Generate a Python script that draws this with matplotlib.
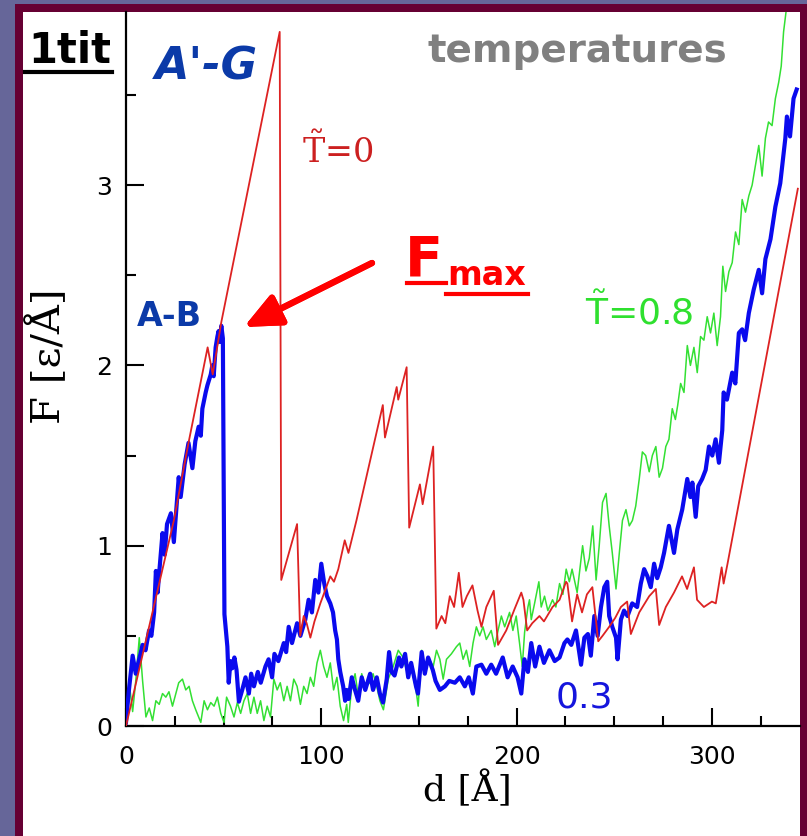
import matplotlib
matplotlib.use("Agg")
import matplotlib.pyplot as plt
from matplotlib.patches import Rectangle
from matplotlib.lines import Line2D
from matplotlib.ticker import MultipleLocator

# --- data: d [A] and F [eps/A] ---

# T~=0 (thin red)
t0_d = [0, 24.5, 32, 41.8, 44.4, 48.8, 78.7, 79.5, 87.6, 89.2, 91, 92.5, 94.4, 96.5,
        99.5, 104.6, 106.5, 108.7, 112, 113.9, 118, 131.5, 132.6, 138.6, 139.4, 143.7,
        145, 150.5, 151.9, 157.3, 158.9, 161.6, 163.5, 165.8, 168, 170.4, 172.3, 174.5,
        177.4, 180, 182, 184.5, 188.3, 190.5, 194.7, 199, 202.4, 203.5, 205.4, 208,
        211.7, 214, 218.4, 222, 225.3, 226, 228.4, 231, 233.5, 236, 238.8, 241.8, 244,
        247.4, 250.5, 253.4, 256.6, 258.5, 262.8, 267.9, 271.3, 273, 276.4, 280.6,
        284.7, 287.3, 290.8, 292.4, 295.9, 300, 302, 305, 306, 308, 344]
t0_F = [0, 1.14, 1.57, 2.10, 1.95, 2.24, 3.85, 0.81, 1.12, 0.50, 0.61, 0.57, 0.49, 0.58,
        0.68, 0.83, 0.80, 0.87, 1.03, 0.96, 1.14, 1.78, 1.60, 1.88, 1.81, 1.99,
        1.10, 1.34, 1.23, 1.55, 0.54, 0.61, 0.57, 0.72, 0.66, 0.85, 0.66, 0.72,
        0.78, 0.64, 0.55, 0.66, 0.75, 0.45, 0.53, 0.65, 0.74, 0.70, 0.53, 0.57,
        0.61, 0.58, 0.66, 0.70, 0.80, 0.79, 0.58, 0.73, 0.63, 0.73, 0.77, 0.47, 0.50,
        0.55, 0.60, 0.66, 0.69, 0.51, 0.63, 0.72, 0.76, 0.56, 0.66, 0.74,
        0.83, 0.76, 0.88, 0.70, 0.66, 0.69, 0.68, 0.88, 0.79, 0.90, 2.98]

# T~=0.3 (thick blue)
t03_d = [0, 1.5, 3.4, 5, 6.5, 8.5, 10, 11.8, 13, 14.4, 15.3, 16.2, 17, 18.7, 19.8, 21,
         23, 24.5, 27, 28, 30, 32, 34, 35.5, 37.2, 38.3, 39.1, 40.8, 41.7, 43.4, 44.2,
         44.9, 45.9, 46.8, 47.4, 48, 48.8, 49.6, 50.4, 51.9, 52.6, 53.5, 54.4, 55.5,
         56.6, 57.8, 59.5, 61.2, 62.9, 64.1, 65.5, 67.5, 69, 71.4, 73, 74.8, 76, 78,
         80.8, 82, 83.3, 85, 87.6, 89.3, 91.8, 93.5, 95.2, 96.9, 98.5, 100, 101.5,
         102.9, 104.6, 106, 107.1, 108, 108.7, 109.7, 111.2, 112.2, 113, 114, 115.6,
         117, 118.9, 120.7, 122.5, 125, 126.5, 128.4, 130, 131.6, 133.5, 134.7, 136,
         137.5, 139.8, 141, 142.9, 144.5, 146, 148.5, 149.5, 151.4, 153, 154.7, 157.1,
         158.5, 160.7, 163.3, 165.5, 168.4, 170.9, 173.5, 175.5, 177.6, 179.4, 182,
         184.5, 187, 189.5, 192.9, 195.4, 198, 200.5, 202.4, 204, 205.8, 207.5, 209.5,
         211.7, 214, 216.8, 219.5, 222, 224.5, 226, 228, 230.4, 233, 234.7, 236.5, 238,
         239.8, 241.5, 243.2, 244.9, 246.4, 247.4, 249, 250.9, 251.7, 253.4, 255, 256.8,
         259.2, 261.7, 263.6, 265.3, 267, 268.7, 270.4, 272, 273.8, 275.5, 278, 280.6,
         282.3, 284.8, 287.4, 289, 290, 291.7, 293, 295, 296.8, 298.5, 300.2, 301.9,
         303.6, 305.3, 306, 307.7, 310.4, 312, 313.8, 315.5, 317, 318.9, 321.4, 324,
         325.7, 327.4, 330, 332.5, 335, 337.6, 338.4, 340, 341.8, 343.4]
t03_F = [0.02, 0.20, 0.39, 0.29, 0.36, 0.45, 0.42, 0.53, 0.50, 0.63, 0.86, 0.74, 0.85,
         1.07, 0.95, 1.12, 1.18, 1.02, 1.38, 1.27, 1.45, 1.57, 1.43, 1.58, 1.66, 1.61,
         1.76, 1.85, 1.89, 1.95, 2.00, 1.94, 2.10, 2.16, 2.19, 2.13, 2.22, 2.15, 0.62,
         0.44, 0.24, 0.36, 0.32, 0.38, 0.31, 0.135, 0.20, 0.27, 0.18, 0.29, 0.22, 0.30,
         0.24, 0.33, 0.37, 0.27, 0.40, 0.36, 0.46, 0.41, 0.55, 0.46, 0.57, 0.50, 0.59,
         0.70, 0.63, 0.81, 0.74, 0.90, 0.79, 0.72, 0.68, 0.63, 0.53, 0.48, 0.37, 0.30,
         0.22, 0.14, 0.20, 0.15, 0.27, 0.21, 0.14, 0.27, 0.20, 0.29, 0.20, 0.27, 0.18,
         0.13, 0.26, 0.41, 0.30, 0.28, 0.38, 0.33, 0.40, 0.27, 0.35, 0.22, 0.18, 0.41,
         0.29, 0.38, 0.31, 0.25, 0.20, 0.22, 0.25, 0.24, 0.27, 0.22, 0.27, 0.18, 0.33,
         0.34, 0.29, 0.34, 0.29, 0.38, 0.27, 0.33, 0.27, 0.18, 0.37, 0.30, 0.46, 0.33,
         0.44, 0.35, 0.42, 0.36, 0.38, 0.46, 0.48, 0.45, 0.53, 0.34, 0.49, 0.51, 0.39,
         0.61, 0.50, 0.66, 0.77, 0.80, 0.61, 0.55, 0.49, 0.37, 0.59, 0.64, 0.61,
         0.68, 0.66, 0.79, 0.87, 0.83, 0.77, 0.90, 0.82, 0.88, 0.96, 1.11, 0.96,
         1.09, 1.20, 1.37, 1.27, 1.35, 1.16, 1.33, 1.37, 1.42, 1.55, 1.50, 1.59,
         1.46, 1.64, 1.85, 1.81, 1.96, 1.90, 2.18, 2.20, 2.14, 2.29, 2.42, 2.53,
         2.40, 2.59, 2.70, 2.88, 3.01, 3.26, 3.38, 3.27, 3.48, 3.53]

# T~=0.8 (thin green)
t08_d = [0, 1.5, 3.4, 5, 6.8, 8.5, 10.2, 11.9, 13.6, 15.3, 17, 18.7, 20.4, 22, 23.8,
         25.5, 27, 28.9, 30.6, 32.3, 34, 35.7, 38.3, 40, 41.7, 43.4, 45.1, 46.8, 48.5,
         50.2, 51.5, 53.5, 55.3, 57, 58.7, 60.4, 62.1, 63.8, 65.5, 67.2, 68.9, 70.6,
         72.3, 74, 75.7, 77.4, 79, 80.8, 82.5, 84.2, 85.9, 87.6, 89.3, 91, 92.7, 94.4,
         96.1, 97.8, 99.5, 101.2, 102.9, 104.6, 106.3, 108, 109.7, 111.4, 113, 113.8,
         115.6, 117.3, 119, 120.7, 122.4, 125, 126.5, 128.4, 130, 131.8, 134.3, 136.8,
         139.4, 141.9, 143.6, 146, 148.5, 149.6, 151.4, 153, 154.7, 157.3, 159, 160.7,
         162.4, 164.1, 166.6, 169.2, 170.9, 172.6, 174.3, 176, 177.7, 179.4, 181.1,
         182.8, 184.5, 187, 188.8, 190.5, 192.2, 193.9, 196.4, 198.1, 199.8, 201.5,
         202.9, 204.1, 205.8, 206.6, 207.5, 209.2, 211.4, 212.6, 214.3, 216, 218.4,
         220.1, 222, 223.7, 225.4, 227, 228.4, 231, 233.8, 235.5, 237.2, 239, 240.7,
         242.3, 244, 245.8, 247.4, 249, 250.9, 252.6, 254.2, 256, 257.7, 259.3, 261,
         262.8, 264.4, 266.1, 267.9, 269.5, 271.3, 273, 274.7, 276.4, 278, 279.7,
         281.3, 282.5, 284, 285.7, 287.4, 289, 290.8, 292.5, 294.2, 295.9, 297.6,
         299.3, 301, 302.7, 304.4, 305.6, 307, 308.7, 310.4, 312.1, 313.8, 315.5,
         317.2, 318.9, 320.6, 322.3, 324, 325.7, 327.4, 329, 330.8, 332.5, 334.2,
         335.5, 336.7, 338.4, 340]
t08_F = [0.02, 0.25, 0.08, 0.25, 0.49, 0.25, 0.05, 0.10, 0.03, 0.14, 0.12, 0.18, 0.16,
         0.19, 0.11, 0.18, 0.24, 0.26, 0.20, 0.22, 0.14, 0.09, 0.02, 0.14, 0.09, 0.13,
         0.11, 0.16, 0.07, 0.02, 0.16, 0.11, 0.05, 0.13, 0.07, 0.14, 0.18, 0.07, 0.16,
         0.07, 0.14, 0.03, 0.11, 0.05, 0.26, 0.20, 0.24, 0.14, 0.22, 0.14, 0.26, 0.22,
         0.12, 0.22, 0.18, 0.27, 0.22, 0.35, 0.42, 0.33, 0.27, 0.35, 0.20, 0.27, 0.11,
         0.03, 0.12, 0.02, 0.22, 0.29, 0.16, 0.29, 0.22, 0.24, 0.29, 0.22, 0.14, 0.09,
         0.26, 0.33, 0.42, 0.38, 0.31, 0.33, 0.20, 0.11, 0.42, 0.31, 0.38, 0.33, 0.42,
         0.37, 0.26, 0.37, 0.40, 0.44, 0.46, 0.37, 0.42, 0.33, 0.46, 0.55, 0.50, 0.55,
         0.48, 0.53, 0.44, 0.53, 0.61, 0.55, 0.63, 0.53, 0.61, 0.46, 0.33, 0.52, 0.66,
         0.70, 0.59, 0.68, 0.80, 0.66, 0.72, 0.64, 0.70, 0.66, 0.79, 0.73, 0.87, 0.80,
         0.87, 0.74, 1.00, 0.86, 0.93, 1.11, 0.81, 1.00, 1.24, 1.29, 1.11, 0.96, 0.76,
         0.96, 1.14, 1.20, 1.11, 1.14, 1.22, 1.37, 1.52, 1.50, 1.41, 1.50, 1.55, 1.38,
         1.43, 1.55, 1.59, 1.76, 1.70, 1.78, 1.90, 1.85, 2.11, 2.00, 2.10, 1.96, 2.16,
         2.14, 2.27, 2.18, 2.29, 2.11, 2.27, 2.55, 2.41, 2.52, 2.57, 2.74, 2.67, 2.92,
         2.85, 2.94, 3.00, 3.11, 3.22, 3.05, 3.26, 3.35, 3.33, 3.48, 3.57, 3.66, 3.85,
         4.00, 4.20]

W, H = 807, 836


def fx(px):
    return px / W


def fy(py):
    return 1 - py / H


fig = plt.figure(figsize=(W / 100, H / 100), dpi=100, facecolor='#666699')

# slide frame: maroon border and white panel
fig.patches.append(Rectangle((fx(15), 0), 1 - fx(15), fy(4), transform=fig.transFigure,
                             facecolor='#660033', edgecolor='none', zorder=-2))
fig.patches.append(Rectangle((fx(23), 0), fx(800) - fx(23), fy(12), transform=fig.transFigure,
                             facecolor='white', edgecolor='none', zorder=-1))

# axes: x=0 at px 126, y=0 at px 726
x0, y0, sx, sy = 126, 726, 1.953, 180.3
ax = fig.add_axes([fx(x0), fy(y0), fx(800) - fx(x0), fy(12) - fy(y0)])
ax.set_facecolor('none')
ax.set_xlim(0, (800 - x0) / sx)
ax.set_ylim(0, (y0 - 12) / sy)

ax.plot(t08_d, t08_F, color='#33e033', lw=1.1, zorder=2)
ax.plot(t03_d, t03_F, color='#0a0aee', lw=3.0, zorder=3)
ax.plot(t0_d, t0_F, color='#dd2222', lw=1.3, zorder=4)

for s in ['top', 'right']:
    ax.spines[s].set_visible(False)
for s in ['left', 'bottom']:
    ax.spines[s].set_linewidth(1.6)
ax.xaxis.set_major_locator(MultipleLocator(100))
ax.xaxis.set_minor_locator(MultipleLocator(25))
ax.yaxis.set_major_locator(MultipleLocator(1))
ax.yaxis.set_minor_locator(MultipleLocator(0.5))
ax.tick_params(which='both', direction='in', width=1.5, top=False, right=False)
ax.tick_params(which='major', length=13, labelsize=18)
ax.tick_params(axis='x', which='major', pad=14)
ax.tick_params(axis='y', which='major', pad=10)
ax.tick_params(which='minor', length=7)

# axis labels
fig.text(fx(467), fy(790), 'd [Å]', family='DejaVu Serif', fontsize=26,
         ha='center', va='center')
fig.text(fx(47), fy(356), 'F [ε/Å]', family='DejaVu Serif', fontsize=29,
         ha='center', va='center', rotation=90)

plt.rcParams['mathtext.fontset'] = 'dejavuserif'

# slide annotations
fig.text(fx(28), fy(63), '1tit', fontsize=30, fontweight='bold', color='black',
         ha='left', va='baseline')
fig.lines.append(Line2D([fx(25), fx(112)], [fy(71.5), fy(71.5)], transform=fig.transFigure,
                        color='black', lw=3))
fig.text(fx(155), fy(79), "A'-G", fontsize=32, fontweight='bold', style='italic',
         color='#0b3aa8', ha='left', va='baseline')
fig.text(fx(428), fy(62), 'temperatures', fontsize=28, fontweight='bold', color='#808080',
         ha='left', va='baseline')
fig.text(fx(302), fy(163), r'$\tilde{\mathrm{T}}$=0', fontsize=24, family='DejaVu Serif',
         color='#cc2020', ha='left', va='baseline')
fig.text(fx(585), fy(325), r'$\tilde{\mathsf{T}}$=0.8', fontsize=26, color='#2fe02f',
         ha='left', va='baseline')
fig.text(fx(556), fy(708), '0.3', fontsize=26, color='#1515dd', ha='left', va='baseline')
fig.text(fx(137), fy(326), 'A-B', fontsize=24, fontweight='bold', color='#0b3aa8',
         ha='left', va='baseline')

# F_max label with arrow
fig.text(fx(405), fy(275), 'F', fontsize=40, fontweight='bold', color='#ff0000',
         ha='left', va='baseline')
fig.text(fx(447), fy(285), 'max', fontsize=24, fontweight='bold', color='#ff0000',
         ha='left', va='baseline')
fig.lines.append(Line2D([fx(407), fx(446)], [fy(282.5), fy(282.5)], transform=fig.transFigure,
                        color='#ff0000', lw=3))
fig.lines.append(Line2D([fx(446), fx(528)], [fy(293.5), fy(293.5)], transform=fig.transFigure,
                        color='#ff0000', lw=3))
fig.add_artist(plt.annotate('', xy=(fx(244), fy(327)), xytext=(fx(372), fy(263)),
                            xycoords='figure fraction', textcoords='figure fraction',
                            arrowprops=dict(arrowstyle='-|>,head_length=1.0,head_width=0.45',
                                            mutation_scale=22, lw=4.5, color='#ff0000',
                                            shrinkA=0, shrinkB=0)))

fig.savefig('out.png', dpi=100, facecolor=fig.get_facecolor())
